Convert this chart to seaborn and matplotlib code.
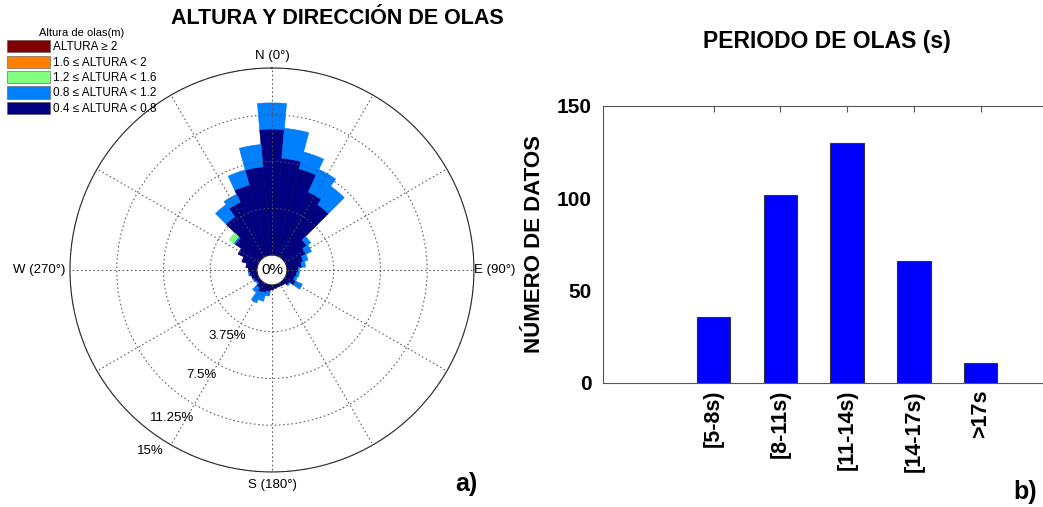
import numpy as np
import pandas as pd
import matplotlib.pyplot as plt
import seaborn as sns
from matplotlib.patches import Patch

# rosa de oleaje: direccion (grados) y frecuencia (%) por clase de altura
direcciones = np.arange(0, 360, 10)
h_04_08 = [10.1, 7.8, 7.2, 5.7, 5.2, 2.2, 1.8, 1.4, 1.2, 0.9, 0.8, 0.7,
           0.9, 0.5, 0.3, 0.25, 0.25, 0.3, 0.4, 0.55, 0.7, 0.8, 0.55, 0.3,
           0.4, 0.5, 0.6, 0.7, 0.9, 1.3, 1.8, 2.4, 4.0, 4.8, 5.85, 7.1]
h_08_12 = [2.1, 2.4, 1.4, 2.0, 1.8, 0.4, 0.5, 0.4, 0.3, 0.1, 0.2, 0.2,
           0.6, 0.1, 0.0, 0.0, 0.0, 0.0, 0.0, 0.35, 0.7, 0.9, 0.45, 0.1,
           0.1, 0.0, 0.1, 0.0, 0.0, 0.0, 0.0, 0.15, 1.2, 0.7, 1.25, 1.8]
h_12_16 = [0.0] * 31 + [0.45] + [0.0] * 4
h_16_20 = [0.0] * 36
h_20 = [0.0] * 36

clases = ["0.4 \u2264 ALTURA < 0.8", "0.8 \u2264 ALTURA < 1.2", "1.2 \u2264 ALTURA < 1.6",
          "1.6 \u2264 ALTURA < 2", "ALTURA \u2265 2"]
colores = ["#000080", "#0080FF", "#80FF80", "#FF8000", "#800000"]
bordes = ["#000060", "#0078f0", "#70f070", "#f07800", "#700000"]

# periodo de olas
periodos = ["[5-8s)", "[8-11s)", "[11-14s)", "[14-17s)", ">17s"]
n_datos = [36, 102, 130, 66, 11]

sns.set_style("white")
plt.rcParams["font.family"] = ["Liberation Sans", "DejaVu Sans"]
plt.rcParams["text.color"] = "black"
plt.rcParams["axes.labelcolor"] = "black"
plt.rcParams["xtick.color"] = "black"
plt.rcParams["ytick.color"] = "black"

fig = plt.figure(figsize=(10.43, 5.07), dpi=100)

# ---- rosa ----
ax = fig.add_axes([0.0671, 0.0691, 0.3873, 0.7968], projection="polar")
ax.set_theta_zero_location("N")
ax.set_theta_direction(-1)
theta = np.deg2rad(direcciones)
ancho = np.deg2rad(10)
base = np.zeros(36)
for vals, col, bo in zip([h_04_08, h_08_12, h_12_16, h_16_20, h_20], colores, bordes):
    vals = np.array(vals)
    m = vals > 0
    if m.any():
        ax.bar(theta[m], vals[m], width=ancho, bottom=base[m], color=col,
               edgecolor=bo, linewidth=0.4)
    base = base + vals
ax.set_ylim(0, 15)
ax.set_rorigin(-1.2)
ax.set_axisbelow(False)
ax.set_rgrids([3.75, 7.5, 11.25, 15], labels=[])
ax.set_thetagrids(np.arange(0, 360, 30), labels=[""] * 12)
ax.grid(True, linestyle=(0, (1.5, 2.5)), color="#555555", linewidth=0.75)
ax.spines["polar"].set_color("#222222")
ax.spines["polar"].set_linewidth(0.8)
ax.spines["inner"].set_visible(False)

ax.text(0, 15.5, "N (0\u00b0)", ha="center", va="bottom", fontsize=9.5, clip_on=False)
ax.text(np.pi / 2, 15.0, "E (90\u00b0)", ha="left", va="center", fontsize=9.5, clip_on=False)
ax.text(np.pi, 16.05, "S (180\u00b0)", ha="center", va="center", fontsize=9.5, clip_on=False)
ax.text(3 * np.pi / 2, 15.4, "W (270\u00b0)", ha="right", va="center", fontsize=9.5, clip_on=False)

ang = np.deg2rad(214)
for r, t in zip([5.2, 8.96, 13.1, 16.3], ["3.75%", "7.5%", "11.25%", "15%"]):
    ax.text(ang, r, t, ha="center", va="center", fontsize=9.5, clip_on=False)
ax.text(0.5, 0.5, "0%", transform=ax.transAxes, ha="center", va="center", fontsize=11)

handles = [Patch(facecolor=c, edgecolor="#555555", linewidth=0.4) for c in colores[::-1]]
fig.legend(handles, clases[::-1], title="Altura de olas(m)", loc="upper left",
           bbox_to_anchor=(0.007, 0.945), frameon=False, fontsize=8.5, title_fontsize=8,
           handlelength=3.6, handleheight=1.2, labelspacing=0.2, handletextpad=0.25,
           borderpad=0, borderaxespad=0)

fig.text(0.323, 0.964, "ALTURA Y DIRECCI\u00d3N DE OLAS", ha="center", va="center",
         fontsize=15.5, fontweight="bold")
fig.text(0.447, 0.045, "a)", ha="center", va="center", fontsize=18, fontweight="bold")

# ---- barras ----
ax2 = fig.add_axes([0.578, 0.2446, 0.43, 0.5464])
df = pd.DataFrame({"periodo": periodos, "n": n_datos})
sns.barplot(data=df, x="periodo", y="n", color="#0000FF", saturation=1, width=0.5,
            edgecolor="#333333", linewidth=0.8, ax=ax2)
ax2.set_xlim(-1.66, 5.06)
ax2.set_ylim(0, 150)
ax2.set_yticks([0, 50, 100, 150])
ax2.set_xlabel("")
ax2.set_ylabel("N\u00daMERO DE DATOS", fontsize=16, fontweight="bold")
ax2.yaxis.set_label_coords(-0.129, 0.5)
ax2.tick_params(direction="in", top=True, right=True, length=4, color="#555555")
ax2.tick_params(axis="x", labelrotation=90, labelsize=15.5, pad=5)
ax2.tick_params(axis="y", labelsize=15, pad=8)
for lab in ax2.get_xticklabels() + ax2.get_yticklabels():
    lab.set_fontweight("bold")
for s in ax2.spines.values():
    s.set_color("#555555")
    s.set_linewidth(0.8)
ax2.set_title("PERIODO DE OLAS (s)", fontsize=16.5, fontweight="bold", pad=42)
fig.text(0.983, 0.03, "b)", ha="center", va="center", fontsize=18, fontweight="bold")

plt.savefig("out.png", dpi=100)
